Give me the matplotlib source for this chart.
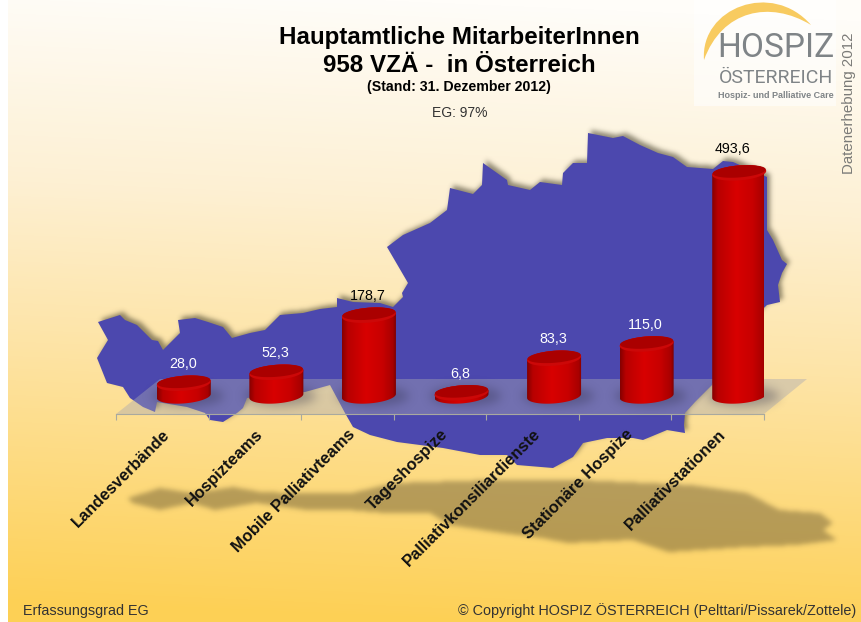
import numpy as np
import matplotlib
matplotlib.use("Agg")
from matplotlib import pyplot as plt
from matplotlib.colors import LinearSegmentedColormap
from matplotlib.patches import PathPatch, Polygon, Rectangle
from matplotlib.path import Path

plt.rcParams["font.family"] = ["Liberation Sans", "DejaVu Sans"]

# Daten
kategorien = ["Landesverbände", "Hospizteams", "Mobile Palliativteams", "Tageshospize",
              "Palliativkonsiliardienste", "Stationäre Hospize", "Palliativstationen"]
werte = [28.0, 52.3, 178.7, 6.8, 83.3, 115.0, 493.6]
wert_labels = ["28,0", "52,3", "178,7", "6,8", "83,3", "115,0", "493,6"]
label_farben = ["white", "white", "black", "white", "white", "white", "black"]

# Umriss Oesterreich (Bildpixel)
karte = [(98, 322), (120, 315), (125, 320), (137, 325), (145, 333), (152, 340), (158, 341), (163, 350),
         (170, 343), (180, 333), (178, 320), (195, 318), (208, 322), (223, 327), (232, 338), (250, 333),
         (265, 330), (280, 315), (303, 313), (320, 309), (337, 307), (337, 298), (353, 302), (380, 303),
         (393, 307), (403, 297), (402, 293), (408, 283), (387, 247), (403, 235), (430, 223), (447, 210),
         (450, 188), (473, 194), (482, 185), (483, 163), (507, 180), (508, 185), (530, 190), (540, 182),
         (562, 185), (563, 173), (573, 163), (587, 163), (588, 133), (613, 138), (623, 136), (640, 145),
         (658, 153), (673, 157), (687, 167), (713, 169), (723, 161), (733, 162), (767, 177), (767, 198),
         (767, 230), (773, 240), (782, 260), (787, 264), (782, 273), (778, 285), (780, 302), (767, 305),
         (730, 340), (712, 385), (695, 402), (685, 413), (684, 425), (685, 433), (667, 430), (643, 440),
         (633, 438), (607, 438), (583, 443), (573, 457), (553, 468), (517, 465), (507, 455), (480, 455),
         (443, 448), (420, 445), (397, 442), (370, 435), (353, 427), (345, 413), (330, 385), (305, 392),
         (247, 398), (243, 408), (237, 413), (223, 422), (210, 420), (205, 413), (187, 407), (157, 402),
         (155, 412), (143, 407), (130, 398), (123, 387), (107, 383), (97, 358), (108, 340)]
# Schatten unter der Karte
boden_schatten = [(128, 498), (160, 488), (192, 493), (233, 487), (261, 492), (293, 493), (352, 493), (394, 483),
                  (490, 480), (582, 480), (692, 485), (747, 493), (780, 510), (820, 513), (833, 523), (823, 530),
                  (837, 540), (797, 545), (747, 547), (669, 552), (632, 540), (568, 543), (541, 538), (495, 532),
                  (449, 525), (430, 513), (385, 513), (348, 510), (307, 510), (256, 503), (215, 510), (192, 503),
                  (160, 510), (132, 503)]

B, H = 861, 622
fig = plt.figure(figsize=(B / 100, H / 100), dpi=100, facecolor="white")

ax_bg = fig.add_axes([0, 0, 1, 1], zorder=0)
ax_bg.set_xlim(0, B)
ax_bg.set_ylim(H, 0)
ax_bg.axis("off")

xx, yy = np.meshgrid(np.arange(B) + 0.5, np.arange(H) + 0.5)
punkte = np.column_stack([xx.ravel(), yy.ravel()])


def maske(poly, sigma):
    m = Path(poly).contains_points(punkte).reshape(H, B).astype(float)
    fx = np.fft.fftfreq(B)[None, :]
    fy = np.fft.fftfreq(H)[:, None]
    g = np.exp(-2 * (np.pi * sigma) ** 2 * (fx ** 2 + fy ** 2))
    return np.clip(np.fft.ifft2(np.fft.fft2(m) * g).real, 0, 1)


def schatten(m, farbe, alpha, z):
    img = np.zeros((H, B, 4))
    img[..., :3] = np.array(farbe) / 255
    img[..., 3] = m * alpha
    ax_bg.imshow(img, extent=(0, B, H, 0), aspect="auto", zorder=z, interpolation="nearest")


# Hintergrund
verlauf = LinearSegmentedColormap.from_list("hg", [(0, "#fffdf9"), (0.32, "#fdf0d3"), (0.58, "#fee4a6"), (1, "#fdd055")])
t = np.clip(yy[:, 8:] / H + 0.06 * (1 - xx[:, 8:] / B) - 0.03, 0, 1)
ax_bg.imshow(verlauf(t), extent=(8, B, H, 0), aspect="auto", zorder=1)
ax_bg.set_xlim(0, B)
ax_bg.set_ylim(H, 0)

schatten(maske(boden_schatten, 2.5), (95, 80, 45), 0.45, 2)
schatten(maske([(x + 3, y - 3) for x, y in karte], 2.5), (70, 65, 45), 0.6, 3)
ax_bg.add_patch(Polygon(karte, closed=True, fc="#4c48ae", ec="none", zorder=4))

# Boden
ax_bg.add_patch(Polygon([(116, 414), (160, 379), (807, 379), (764, 414)], closed=True,
                        fc=(0.66, 0.66, 0.70, 0.42), ec="none", zorder=5))

# Logo
ax_bg.add_patch(Rectangle((694, 0), 142, 106, fc="white", ec="none", alpha=0.55, zorder=5))
ax_bg.add_patch(PathPatch(Path([(704, 60), (700, 8), (772, -20), (811, 25), (770, 0), (722, 10), (704, 60)],
                               [Path.MOVETO, Path.CURVE4, Path.CURVE4, Path.CURVE4, Path.CURVE4, Path.CURVE4, Path.CURVE4]),
                          fc="#f8cb60", ec="none", zorder=6))
ax_bg.text(776, 48, "HOSPIZ", family="Roboto", fontsize=24, color="#7f8487", ha="center", va="center", zorder=7)
ax_bg.text(776, 78, "ÖSTERREICH", family="Roboto", fontsize=14, color="#7f8487", ha="center", va="center", zorder=7)
ax_bg.text(776, 95, "Hospiz- und Palliative Care", fontsize=6.5, fontweight="bold",
           color="#7f8487", ha="center", va="center", zorder=7)
ax_bg.text(849, 103, "Datenerhebung 2012", fontsize=10.8, color="#7b7b78", rotation=90, ha="center", va="center", zorder=7)

# Texte
ax_bg.text(459, 37.5, "Hauptamtliche MitarbeiterInnen", fontsize=17.4, fontweight="bold", ha="center", va="center", zorder=7)
ax_bg.text(459, 65.5, "958 VZÄ -  in Österreich", fontsize=17.4, fontweight="bold", ha="center", va="center", zorder=7)
ax_bg.text(459, 87, "(Stand: 31. Dezember 2012)", fontsize=10.2, fontweight="bold", ha="center", va="center", zorder=7)
ax_bg.text(460, 113, "EG: 97%", fontsize=10, color="#333333", ha="center", va="center", zorder=7)
ax_bg.text(23, 611, "Erfassungsgrad EG", fontsize=10.4, color="#333333", ha="left", va="center", zorder=7)
ax_bg.text(856, 611, "© Copyright HOSPIZ ÖSTERREICH (Pelttari/Pissarek/Zottele)", fontsize=10.35, color="#333333",
           ha="right", va="center", zorder=7)

# Diagramm
ax = fig.add_axes([116 / B, 1 - 414 / H, 648 / B, 253 / H], zorder=2)
ax.patch.set_visible(False)
ax.set_xlim(-0.5, 6.5)
ax.set_ylim(-40, 520)
for s in ["left", "top", "right"]:
    ax.spines[s].set_visible(False)
ax.spines["bottom"].set_color("#a9a99f")
ax.yaxis.set_visible(False)
ax.set_xticks(np.arange(-0.5, 7, 1))
ax.set_xticklabels([])
ax.set_xticks(range(7), minor=True)
ax.set_xticklabels(kategorien, minor=True, rotation=45, ha="right", va="top", rotation_mode="anchor",
                   fontsize=11.9, fontweight="bold", color="#111111")
ax.tick_params(axis="x", which="major", length=4.5, color="#a9a99f")
ax.tick_params(axis="x", which="minor", length=0, pad=9)

sx = 648 / 7
sy = 253 / 560
versatz = 21.5 / sx
a_px, b_px, kipp = 27, 7.5, 2
saeule = LinearSegmentedColormap.from_list("saeule", [(0, "#860000"), (0.1, "#b80000"), (0.45, "#d80000"),
                                                      (0.75, "#c80000"), (0.95, "#a80000"), (1, "#800000")])


def ellipse(cx, v, t, a=a_px, b=b_px):
    # y-Achse zeigt nach oben, rechtes Ende leicht angehoben
    return cx + a * np.cos(t) / sx, v + (b * np.sin(t) + kipp * np.cos(t)) / sy


for i, v in enumerate(werte):
    cx = i + versatz
    unten = np.linspace(np.pi, 2 * np.pi, 60)
    oben = np.linspace(0, np.pi, 60)
    ux, uy = ellipse(cx, 0, unten)
    ox, oy = ellipse(cx, v, oben)
    umriss = np.column_stack([np.r_[ux, ox], np.r_[uy, oy]])

    # weicher Schatten auf dem Boden
    px_x = 116 + (cx + 0.5) * sx
    t_s = np.linspace(0, 2 * np.pi, 40)
    schatten(maske(np.column_stack([px_x + 4 + 36 * np.cos(t_s), 396 + 10 * np.sin(t_s)]), 5), (45, 45, 70), 0.35, 5.5)

    im = ax.imshow(saeule(np.linspace(0, 1, 64))[None, :, :3], extent=(cx - a_px / sx, cx + a_px / sx, -30, v + 30),
                   aspect="auto", interpolation="bilinear", zorder=3)
    im.set_clip_path(Path(umriss), transform=ax.transData)
    im.set_clip_box(None)

    t = np.linspace(0, 2 * np.pi, 120)
    dx, dy = ellipse(cx, v, t)
    ax.fill(dx, dy, color="#cc0808", lw=0, zorder=4, clip_on=False)
    dx, dy = ellipse(cx, v + 1.5 / sy, t, a=a_px - 0.5, b=b_px - 1.5)
    ax.fill(dx, dy, color="#aa0000", lw=0, zorder=5, clip_on=False)

    # Palliativstationen: Label sitzt links vom Balken und etwas hoeher
    dx_lab = -7 if i == 6 else -1
    dy_lab = 12.5 if i == 6 else 8.5
    ax.annotate(wert_labels[i], xy=(cx, v), xytext=(dx_lab * 0.72, dy_lab), textcoords="offset points", ha="center", va="bottom",
                fontsize=10.3, color=label_farben[i], zorder=6, annotation_clip=False)

ax.set_xlim(-0.5, 6.5)
ax.set_ylim(-40, 520)
ax_bg.set_xlim(0, B)
ax_bg.set_ylim(H, 0)

plt.savefig("out.png", dpi=100, facecolor="white")
